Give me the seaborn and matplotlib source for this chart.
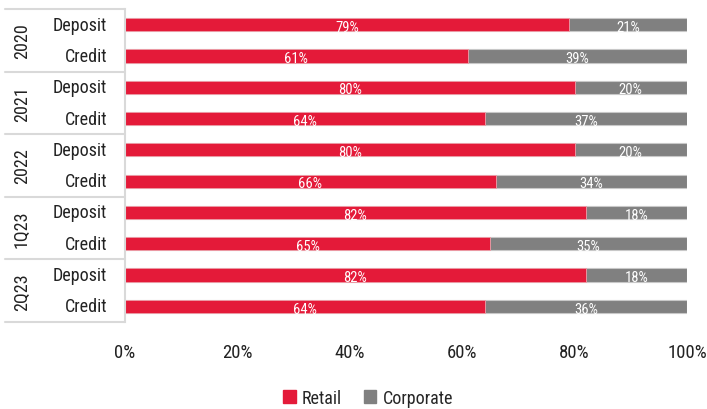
import numpy as np
import pandas as pd
import matplotlib
matplotlib.use("Agg")
import matplotlib.pyplot as plt
import matplotlib.transforms as mtransforms
from matplotlib.lines import Line2D
import seaborn as sns

# Funding/credit mix by customer type
periods = ["2020", "2021", "2022", "1Q23", "2Q23"]
products = ["Deposit", "Credit"]
retail = [79, 61, 80, 64, 80, 66, 82, 65, 82, 64]
corporate = [21, 39, 20, 37, 20, 34, 18, 35, 18, 36]
x_ticks = [0, 20, 40, 60, 80, 100]

RED = "#E41A39"
GREY = "#808080"
LINE = "#D9D9D9"

sns.set_theme(style="white")
plt.rcParams["font.family"] = ["Liberation Sans Narrow", "Roboto Condensed",
                               "DejaVu Sans"]
plt.rcParams["font.stretch"] = "condensed"

rows = [f"{p} {c}" for p in periods for c in products]
df = pd.DataFrame({"row": rows, "retail": retail, "corporate": corporate})
df["total"] = df["retail"] + df["corporate"]

fig = plt.figure(figsize=(7.07, 4.10), dpi=100)
ax = fig.add_axes([125 / 707, 87 / 410, 562 / 707, 313 / 410])

sns.barplot(data=df, y="row", x="total", orient="h", color=GREY, width=0.42,
            saturation=1, edgecolor="#C8C8C8", linewidth=0.8, ax=ax)
sns.barplot(data=df, y="row", x="retail", orient="h", color=RED, width=0.42,
            saturation=1, edgecolor="#F0A0AA", linewidth=0.6, ax=ax)

ax.set_xlim(0, 100)
ax.set_ylim(len(rows) - 0.5, -0.5)
ax.set_xlabel("")
ax.set_ylabel("")
ax.set_yticks([])
ax.set_xticks(x_ticks)
ax.set_xticklabels([f"{t}%" for t in x_ticks], fontsize=13.5, color="#222222")
ax.tick_params(axis="x", length=0, pad=15)
for s in ["top", "right", "bottom"]:
    ax.spines[s].set_visible(False)
ax.spines["left"].set_color(LINE)
ax.spines["left"].set_linewidth(1.5)

# value labels inside the segments
for i, (r, c) in enumerate(zip(retail, corporate)):
    ax.text(r / 2, i + 0.07, f"{r}%", ha="center", va="center",
            color="white", fontsize=10.5)
    ax.text(r + (100 - r) / 2, i + 0.07, f"{c}%", ha="center", va="center",
            color="white", fontsize=10.5)

# left-hand grouping: period labels, product labels, separators
trans = mtransforms.blended_transform_factory(ax.transAxes, ax.transData)
left_edge = -120 / 562
for g in range(len(periods) + 1):
    yb = g * 2 - 0.5
    ax.add_line(Line2D([left_edge, 0], [yb, yb], transform=trans,
                       color=LINE, lw=1.5, clip_on=False))
for g, p in enumerate(periods):
    ax.text(-103 / 562, g * 2 + 0.5, p, transform=trans, rotation=90,
            ha="center", va="center", fontsize=13, color="#222222")
for i, r in enumerate(rows):
    ax.text(-18 / 562, i, r.split(" ")[1], transform=trans, ha="right",
            va="center", fontsize=13, color="#222222")

handles = [plt.Rectangle((0, 0), 1, 1, color=RED),
           plt.Rectangle((0, 0), 1, 1, color=GREY)]
fig.legend(handles, ["Retail", "Corporate"], loc="center",
           bbox_to_anchor=(368 / 707, 1 - 399 / 410), ncol=2, frameon=False,
           fontsize=13, handlelength=0.7, handleheight=0.7,
           handletextpad=0.35, columnspacing=1.2)

fig.savefig("out.png", dpi=100)
